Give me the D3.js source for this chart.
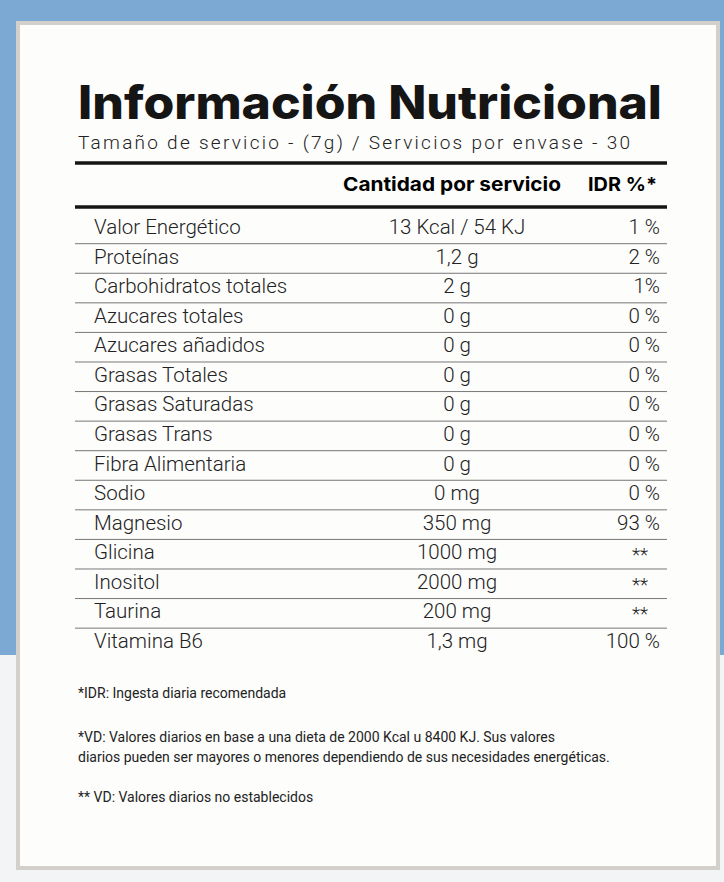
<!DOCTYPE html><html><head><meta charset="utf-8"><script src="https://cdn.jsdelivr.net/npm/d3@7"></script>
<style>body{margin:0}</style></head><body><script>
const nutrients=["Valor Energético","Proteínas","Carbohidratos totales","Azucares totales","Azucares añadidos","Grasas Totales","Grasas Saturadas","Grasas Trans","Fibra Alimentaria","Sodio","Magnesio","Glicina","Inositol","Taurina","Vitamina B6"];
const amounts=["13 Kcal / 54 KJ","1,2 g","2 g","0 g","0 g","0 g","0 g","0 g","0 g","0 mg","350 mg","1000 mg","2000 mg","200 mg","1,3 mg"];
const idr=["1 %","2 %","1%","0 %","0 %","0 %","0 %","0 %","0 %","0 %","93 %","**","**","**","100 %"];
const headers=["Cantidad por servicio","IDR %*"];
const notes=["*IDR: Ingesta diaria recomendada","*VD: Valores diarios en base a una dieta de 2000 Kcal u 8400 KJ. Sus valores","diarios pueden ser mayores o menores dependiendo de sus necesidades energéticas.","** VD: Valores diarios no establecidos"];
const W=724,H=882;
const svg=d3.select("body").append("svg").attr("width",W).attr("height",H);
svg.append("rect").attr("width",W).attr("height",H).attr("fill","#f2f4f6");
svg.append("rect").attr("width",W).attr("height",655).attr("fill","#7ba9d3");
svg.append("rect").attr("x",18).attr("y",23).attr("width",700).attr("height",845).attr("fill","#fdfdfc").attr("stroke","#d3cfcb").attr("stroke-width",4);
const F="Roboto, sans-serif";
svg.append("text").attr("x",78).attr("y",119).attr("font-family","Inter, sans-serif").attr("font-weight",800).attr("font-size",46).attr("textLength",584).attr("lengthAdjust","spacingAndGlyphs").attr("fill","#151515").text("Información Nutricional");
svg.append("text").attr("x",78).attr("y",149).attr("font-family",F).attr("font-weight",300).attr("font-size",19).attr("textLength",552).attr("lengthAdjust","spacing").attr("fill","#222").text("Tamaño de servicio - (7g)  / Servicios por envase - 30");
[163,207].forEach(y=>svg.append("line").attr("x1",75).attr("x2",667).attr("y1",y).attr("y2",y).attr("stroke","#151515").attr("stroke-width",3.5));
svg.append("text").attr("x",343).attr("y",191).attr("font-family","Inter, sans-serif").attr("font-weight",700).attr("font-size",19).attr("textLength",218).attr("lengthAdjust","spacingAndGlyphs").text(headers[0]);
svg.append("text").attr("x",588).attr("y",191).attr("font-family","Inter, sans-serif").attr("font-weight",700).attr("font-size",19).attr("textLength",69).attr("lengthAdjust","spacingAndGlyphs").text(headers[1]);
const y=d3.scalePoint().domain(nutrients).range([234,648]);
const g=svg.append("g").attr("font-family",F).attr("font-weight",300).attr("font-size",20.5).attr("fill","#222");
nutrients.forEach((n,i)=>{
  const b=y(n);
  g.append("text").attr("x",94).attr("y",b).text(n);
  g.append("text").attr("x",457).attr("y",b).attr("text-anchor","middle").text(amounts[i]);
  const v=idr[i];
  if(v==="**") g.append("text").attr("x",640).attr("y",b+2).attr("text-anchor","middle").attr("font-size",19).text(v);
  else g.append("text").attr("x",660).attr("y",b).attr("text-anchor","end").text(v);
  if(i<nutrients.length-1) svg.append("line").attr("x1",75).attr("x2",667).attr("y1",b+9.7).attr("y2",b+9.7).attr("stroke","#777").attr("stroke-width",1);
});
const ny=[698,742,762,802];
notes.forEach((t,i)=>svg.append("text").attr("x",78).attr("y",ny[i]).attr("font-family",F).attr("font-size",14).attr("fill","#222").text(t));
</script></body></html>
